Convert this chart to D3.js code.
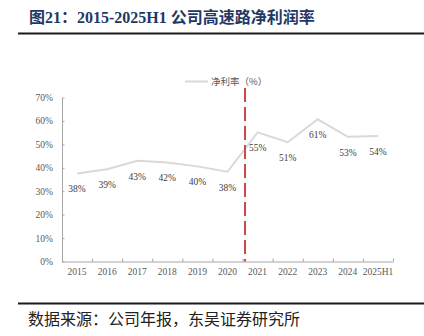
<!DOCTYPE html>
<html><head><meta charset="utf-8">
<script src="https://cdn.jsdelivr.net/npm/d3@7"></script>
<style>
html,body{margin:0;padding:0;background:#fff;}
svg{display:block;}
</style></head>
<body>
<svg id="c" width="424" height="336"></svg>
<script>
const categories = ["2015","2016","2017","2018","2019","2020","2021","2022","2023","2024","2025H1"];
const netMargin = [37.6, 39.4, 43.0, 42.3, 40.6, 38.3, 55.1, 50.9, 60.7, 53.2, 53.6];
const marginLabels = ["38%","39%","43%","42%","40%","38%","55%","51%","61%","53%","54%"];
const yTicks = [0,10,20,30,40,50,60,70];
const seriesName = "净利率（%）";
const titleText = "图21：2015-2025H1 公司高速路净利润率";
const sourceText = "数据来源：公司年报，东吴证券研究所";
const dividerAfter = "2020";

const svg = d3.select("#c");
const serif = "'Liberation Serif','Times New Roman',serif";
const cjk = "'Liberation Serif','Noto Sans CJK SC',sans-serif";

// title
svg.append("text").attr("x",29).attr("y",23)
  .attr("font-family",cjk).attr("font-weight","bold").attr("font-size",16)
  .attr("fill","#1f3864").text(titleText);
svg.append("line").attr("x1",18).attr("x2",424).attr("y1",33.5).attr("y2",33.5)
  .attr("stroke","#1a1a1a").attr("stroke-width",2);

// footer
svg.append("line").attr("x1",18).attr("x2",424).attr("y1",303.5).attr("y2",303.5)
  .attr("stroke","#1a1a1a").attr("stroke-width",2);
svg.append("text").attr("x",28).attr("y",325)
  .attr("font-family","'Noto Sans CJK SC',sans-serif").attr("font-size",16)
  .attr("fill","#222").text(sourceText);

const x = d3.scaleBand().domain(categories).range([62,393]);
const y = d3.scaleLinear().domain([0,70]).range([261.5,97.5]);

// y axis
const ya = svg.append("g").attr("transform","translate(62,0)")
  .call(d3.axisLeft(y).tickValues(yTicks).tickFormat(d=>d+"%").tickSize(-2.5).tickSizeOuter(0).tickPadding(9));
ya.select(".domain").attr("stroke","#a6a6a6");
ya.selectAll(".tick line").attr("stroke","#a6a6a6");
ya.selectAll("text").attr("font-family",serif).attr("font-size",9.5).attr("fill","#595959");

// x axis
const xa = svg.append("g").attr("transform","translate(0,261.5)")
  .call(d3.axisBottom(x).tickSize(0).tickSizeOuter(0).tickPadding(7));
xa.select(".domain").attr("stroke","#a6a6a6");
xa.selectAll("text").attr("font-family",serif).attr("font-size",9.5).attr("fill","#595959");
const bounds = categories.map(c=>x(c)).concat([x.range()[1]]);
xa.selectAll(".bt").data(bounds).enter().append("line").attr("class","bt")
  .attr("x1",d=>d+0.5).attr("x2",d=>d+0.5).attr("y1",0).attr("y2",-3)
  .attr("stroke","#a6a6a6");

// legend
svg.append("line").attr("x1",185).attr("x2",208).attr("y1",81.5).attr("y2",81.5)
  .attr("stroke","#d9d9d9").attr("stroke-width",2);
svg.append("text").attr("x",211).attr("y",85)
  .attr("font-family","'Noto Sans CJK SC',sans-serif").attr("font-size",9.5)
  .attr("fill","#595959").text(seriesName);

// line
const line = d3.line().x((d,i)=>x(categories[i])+x.bandwidth()/2).y(d=>y(d));
svg.append("path").datum(netMargin).attr("d",line)
  .attr("fill","none").attr("stroke","#d9d9d9").attr("stroke-width",2);

// labels
svg.selectAll(".lbl").data(netMargin).enter().append("text").attr("class","lbl")
  .attr("x",(d,i)=>x(categories[i])+x.bandwidth()/2)
  .attr("y",d=>y(d)+19)
  .attr("text-anchor","middle")
  .attr("font-family",serif).attr("font-size",9.5).attr("fill","#404040")
  .text((d,i)=>marginLabels[i]);

// divider
const dx = x(dividerAfter)+x.bandwidth()+2.5;
svg.append("line").attr("x1",dx).attr("x2",dx).attr("y1",88).attr("y2",261.5)
  .attr("stroke","#c9474a").attr("stroke-width",2).attr("stroke-dasharray","14,5");
</script>
</body></html>
